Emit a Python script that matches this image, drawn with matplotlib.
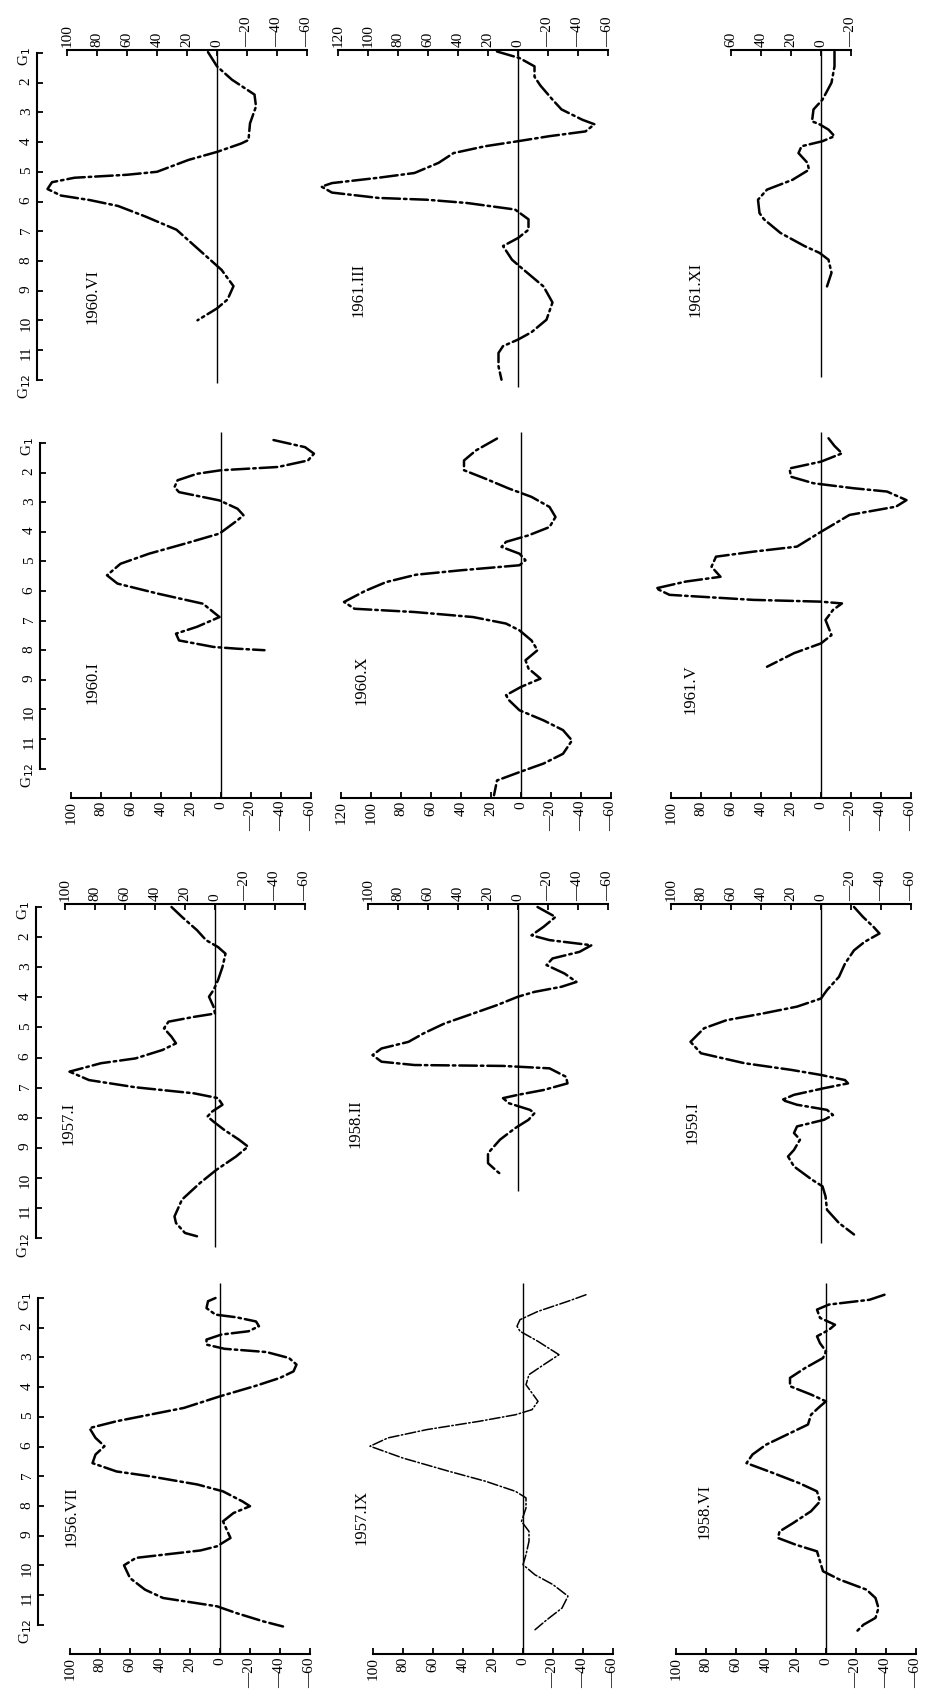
import matplotlib.pyplot as plt
import numpy as np

plt.rcParams['font.family'] = ['Liberation Serif', 'DejaVu Serif']

# ---- data (month position, value) ----
m_1960_VI = [0.97, 1.45, 1.9, 2.4, 2.8, 3.37, 3.93, 4.05, 4.33, 4.6, 5.0, 5.1, 5.2, 5.35, 5.58, 5.8, 5.95, 6.15, 6.5, 6.95, 7.4, 7.85, 8.3, 8.85, 9.3, 9.6, 10.0]
v_1960_VI = [6, 0, -10, -25, -26, -22, -21, -16, 0, 19, 40, 60, 95, 110, 113, 104, 85, 66, 48, 27, 17, 7, -3, -11, -7, 0, 13]

m_1961_III = [0.95, 1.17, 1.45, 1.8, 2.1, 2.57, 2.9, 3.25, 3.4, 3.64, 3.8, 3.97, 4.14, 4.37, 4.7, 5.04, 5.2, 5.38, 5.5, 5.7, 5.88, 5.94, 6.05, 6.27, 6.6, 6.95, 7.23, 7.5, 7.96, 8.18, 8.86, 9.4, 9.98, 10.4, 10.65, 10.87, 11.1, 11.55, 12.0]
v_1961_III = [14, -1, -11, -11, -15, -23, -29, -43, -51, -45, -21, 0, 22, 43, 53, 69, 93, 124, 131, 124, 93, 61, 34, 2, -7, -7, 0, 10, 4, -1, -17, -23, -19, -9, 0, 10, 13, 13, 11]

m_1961_XI = [0.95, 1.45, 2.0, 2.57, 2.9, 3.3, 3.4, 3.58, 3.8, 3.97, 4.14, 4.37, 4.7, 4.93, 5.27, 5.6, 5.94, 6.39, 6.6, 7.06, 7.5, 7.73, 7.96, 8.4, 8.86]
v_1961_XI = [-9, -9, -7, -1, 5, 6, 1, -5, -9, -1, 13, 15, 9, 8, 19, 36, 42, 41, 38, 27, 11, 1, -5, -7, -4]

m_1960_I = [0.9, 1.14, 1.36, 1.59, 1.81, 1.92, 2.04, 2.26, 2.49, 2.66, 2.94, 3.22, 3.44, 3.61, 4.06, 4.4, 4.74, 5.08, 5.47, 5.75, 6.09, 6.43, 6.88, 7.21, 7.44, 7.67, 7.89, 7.95, 8.0]
v_1960_I = [-35, -56, -62, -58, -38, 0, 16, 29, 31, 28, 1, -11, -15, -11, 1, 24, 48, 67, 76, 69, 42, 12, 1, 16, 30, 28, 5, -11, -29]

m_1960_X = [0.85, 1.25, 1.59, 1.92, 2.2, 2.54, 2.82, 3.16, 3.5, 3.84, 4.12, 4.34, 4.51, 4.74, 4.96, 5.13, 5.3, 5.45, 5.7, 6.0, 6.37, 6.6, 6.71, 6.88, 7.1, 7.33, 7.67, 8.0, 8.34, 8.62, 8.96, 9.24, 9.52, 9.69, 10.03, 10.37, 10.7, 11.05, 11.5, 11.83, 12.1, 12.4, 12.9]
v_1960_X = [16, 30, 38, 38, 24, 8, -7, -19, -23, -19, -5, 10, 13, 1, -3, 1, 40, 70, 90, 104, 118, 111, 71, 32, 10, 1, -7, -11, -3, -5, -13, 0, 10, 8, 1, -15, -28, -34, -28, -15, 0, 16, 18]

m_1961_V = [0.84, 1.1, 1.35, 1.63, 1.86, 2.14, 2.36, 2.53, 2.64, 2.93, 3.15, 3.43, 4.0, 4.5, 4.67, 4.84, 5.18, 5.52, 5.68, 5.91, 6.13, 6.3, 6.36, 6.42, 6.64, 6.98, 7.49, 7.77, 8.1, 8.56]
v_1961_V = [-5, -9, -14, 0, 21, 20, 5, -22, -44, -57, -50, -19, 0, 16, 45, 70, 73, 67, 90, 110, 101, 45, 0, -14, -8, -3, -7, 0, 18, 36]

m_1957_I = [1.0, 1.33, 1.77, 2.1, 2.33, 2.55, 2.99, 3.43, 3.76, 3.98, 4.31, 4.54, 4.65, 4.81, 5.03, 5.31, 5.53, 5.75, 6.03, 6.19, 6.47, 6.75, 6.99, 7.19, 7.35, 7.57, 7.8, 7.96, 8.13, 8.4, 8.73, 8.96, 9.29, 9.73, 10.17, 10.72, 11.28, 11.5, 11.83, 11.94]
v_1957_I = [29, 22, 12, 6, -2, -7, -5, -2, 1, 4, 1, 0, 14, 31, 34, 29, 26, 35, 53, 76, 97, 84, 53, 14, -2, -5, 2, 5, 1, -6, -16, -22, -14, -1, 10, 22, 27, 26, 20, 12]

m_1958_II = [1.0, 1.33, 1.66, 1.94, 2.1, 2.27, 2.49, 2.71, 2.93, 3.21, 3.49, 3.65, 3.82, 3.98, 4.26, 4.54, 4.87, 5.2, 5.48, 5.7, 5.92, 6.14, 6.25, 6.28, 6.36, 6.64, 6.86, 7.08, 7.24, 7.35, 7.52, 7.74, 7.85, 8.07, 8.35, 8.73, 9.18, 9.51, 9.78, 9.9]
v_1958_II = [-13, -25, -17, -9, -21, -49, -41, -23, -19, -31, -39, -29, -11, 0, 14, 30, 49, 63, 73, 91, 97, 91, 69, 10, -21, -32, -33, -17, 0, 10, 6, -8, -11, -7, 2, 12, 20, 20, 14, 11]

m_1959_I = [1.0, 1.33, 1.66, 1.88, 2.16, 2.44, 2.88, 3.32, 3.76, 4.04, 4.31, 4.54, 4.76, 5.03, 5.48, 5.86, 6.19, 6.41, 6.58, 6.75, 6.86, 7.02, 7.24, 7.41, 7.57, 7.74, 7.91, 8.07, 8.29, 8.51, 8.73, 9.07, 9.29, 9.62, 10.06, 10.28, 10.61, 11.06, 11.5, 11.88]
v_1959_I = [-22, -28, -35, -39, -29, -22, -16, -12, -4, 0, 16, 39, 63, 78, 87, 80, 51, 20, 0, -16, -18, -2, 18, 26, 16, -4, -8, -2, 16, 18, 14, 18, 22, 18, 6, -1, -3, -4, -12, -22]

m_1956_VII = [1.0, 1.11, 1.34, 1.56, 1.65, 1.79, 1.95, 2.12, 2.23, 2.4, 2.57, 2.71, 2.82, 3.02, 3.24, 3.47, 3.69, 3.97, 4.31, 4.7, 4.98, 5.15, 5.38, 5.71, 5.99, 6.27, 6.56, 6.84, 7.0, 7.28, 7.51, 7.85, 8.01, 8.24, 8.52, 8.86, 9.08, 9.36, 9.5, 9.75, 10.0, 10.43, 10.82, 11.1, 11.38, 11.61, 11.89, 12.06]
v_1956_VII = [3, 8, 9, 3, -11, -24, -26, -19, -1, 9, 9, -3, -31, -46, -51, -49, -40, -23, 0, 24, 52, 69, 87, 83, 77, 83, 85, 69, 47, 15, -2, -15, -20, -9, -2, -5, -7, 2, 13, 56, 64, 60, 50, 38, 2, -11, -29, -42]

m_1957_IX = [0.89, 1.11, 1.45, 1.73, 1.95, 2.12, 2.46, 2.91, 3.24, 3.58, 3.92, 4.2, 4.48, 4.76, 4.93, 5.15, 5.43, 5.71, 5.99, 6.39, 6.84, 7.17, 7.51, 7.73, 8.07, 8.52, 8.86, 9.19, 9.64, 9.98, 10.32, 10.65, 11.04, 11.44, 11.83, 12.17]
v_1957_IX = [-42, -30, -10, 2, 4, 2, -10, -24, -14, -4, -2, -6, -10, -6, 5, 29, 64, 90, 102, 80, 49, 25, 5, -2, -2, 1, -4, -4, -2, 0, -8, -20, -30, -26, -16, -8]

m_1958_VI = [0.89, 1.06, 1.22, 1.39, 1.67, 1.9, 2.07, 2.29, 2.52, 2.8, 3.02, 3.36, 3.69, 3.97, 4.25, 4.48, 4.65, 4.93, 5.26, 5.6, 5.94, 6.27, 6.56, 6.84, 7.23, 7.51, 7.85, 8.18, 8.58, 8.86, 9.08, 9.31, 9.53, 9.87, 10.2, 10.48, 10.82, 11.1, 11.44, 11.77, 12.0, 12.2]
v_1958_VI = [-39, -29, -2, 6, 4, -6, -2, 6, 4, 0, 2, 14, 24, 24, 10, 0, 4, 10, 12, 26, 40, 49, 53, 38, 18, 6, 4, 10, 22, 31, 32, 20, 6, 4, 2, -9, -27, -33, -35, -33, -25, -21]

titles = [["1960.VI", "1961.III", "1961.XI"],
          ["1960.I", "1960.X", "1961.V"],
          ["1957.I", "1958.II", "1959.I"],
          ["1956.VII", "1957.IX", "1958.VI"]]
series = [[(m_1960_VI, v_1960_VI), (m_1961_III, v_1961_III), (m_1961_XI, v_1961_XI)],
          [(m_1960_I, v_1960_I), (m_1960_X, v_1960_X), (m_1961_V, v_1961_V)],
          [(m_1957_I, v_1957_I), (m_1958_II, v_1958_II), (m_1959_I, v_1959_I)],
          [(m_1956_VII, v_1956_VII), (m_1957_IX, v_1957_IX), (m_1958_VI, v_1958_VI)]]
axis_ranges = [[(100, -60), (120, -60), (60, -20)],
               [(100, -60), (120, -60), (100, -60)],
               [(100, -60), (100, -60), (100, -60)],
               [(100, -60), (100, -60), (100, -60)]]
month_labels = ["G$_1$", "2", "3", "4", "5", "6", "7", "8", "9", "10", "11", "G$_{12}$"]

# ---- layout (pixels in the 926x1705 picture) ----
W, H = 926, 1705
SCALE = 1.5          # px per value unit
VMAX, VMIN = 135, -65
MBOT = 13.0
rows = [
    dict(yg1=53, sp=29.7, side='top', mtop=0.9, gx=37, zeros=[217, 518, 821],
         zl=[(0.9, 12.1), (0.9, 12.25), (0.9, 11.9)]),
    dict(yg1=443, sp=29.6, side='bottom', mtop=0.4, gx=40, zeros=[221, 521, 821],
         zl=[(0.63, 13), (0.63, 13), (0.63, 13)]),
    dict(yg1=907, sp=30.1, side='top', mtop=0.9, gx=36, zeros=[215, 518, 821],
         zl=[(0.9, 12.3), (0.9, 10.45), (0.9, 12.15)]),
    dict(yg1=1298, sp=29.7, side='bottom', mtop=0.4, gx=38, zeros=[220, 523, 826],
         zl=[(0.5, 13), (0.5, 13), (0.5, 13)]),
]
title_pos = [[(92, 297), (358, 290), (695, 289)],
             [(92, 682), (361, 680), (690, 689)],
             [(68, 1123), (355, 1124), (692, 1123)],
             [(71, 1517), (361, 1517), (704, 1511)]]


def fmt(v):
    return "\u2014" + str(-v) if v < 0 else str(v)


fig = plt.figure(figsize=(W / 100, H / 100), dpi=100)

for r, row in enumerate(rows):
    for c in range(3):
        z = row['zeros'][c]
        left = z - VMAX * SCALE
        right = z - VMIN * SCALE
        top = row['yg1'] + (row['mtop'] - 1) * row['sp']
        bot = row['yg1'] + (MBOT - 1) * row['sp']
        ax = fig.add_axes([left / W, 1 - bot / H, (right - left) / W, (bot - top) / H])
        ax.set_xlim(VMAX, VMIN)
        ax.set_ylim(MBOT, row['mtop'])
        ax.patch.set_alpha(0)
        for s in ax.spines.values():
            s.set_visible(False)

        # value axis
        hi, lo = axis_ranges[r][c]
        side = row['side']
        sp = ax.spines[side]
        sp.set_visible(True)
        sp.set_linewidth(1.5)
        sp.set_bounds(lo, hi)
        ticks = list(range(lo, hi + 1, 20))
        ax.set_xticks(ticks)
        ax.set_xticklabels([fmt(t) for t in ticks])
        if side == 'top':
            ax.xaxis.tick_top()
        else:
            ax.xaxis.tick_bottom()
        ax.tick_params(axis='x', direction='in', length=4, width=1.3, labelsize=11,
                       labelrotation=90, pad=2)

        # month axis only on the first panel of each row
        if c == 0:
            gs = ax.spines['left']
            gs.set_visible(True)
            gs.set_linewidth(1.5)
            gs.set_position(('data', (z - row['gx']) / SCALE))
            gs.set_bounds(1, 12)
            ax.set_yticks(range(1, 13))
            ax.set_yticklabels(month_labels)
            ax.tick_params(axis='y', direction='in', length=4, width=1.3, labelsize=11,
                           labelrotation=90, pad=3)
        else:
            ax.set_yticks([])

        # zero line
        m0, m1 = row['zl'][c]
        ax.vlines(0, m0, m1, color='black', lw=1.0)

        # curve
        mm, vv = series[r][c]
        lw = 1.1 if titles[r][c] == "1957.IX" else 1.8
        ax.plot(vv, mm, color='black', lw=lw, linestyle=(0, (7, 1.6, 1, 1.6)),
                dash_capstyle='round', clip_on=False)

        tx, ty = title_pos[r][c]
        fig.text(tx / W, 1 - ty / H, titles[r][c], rotation=90, ha='center', va='center',
                 fontsize=12)

fig.savefig('out.png', dpi=100)
